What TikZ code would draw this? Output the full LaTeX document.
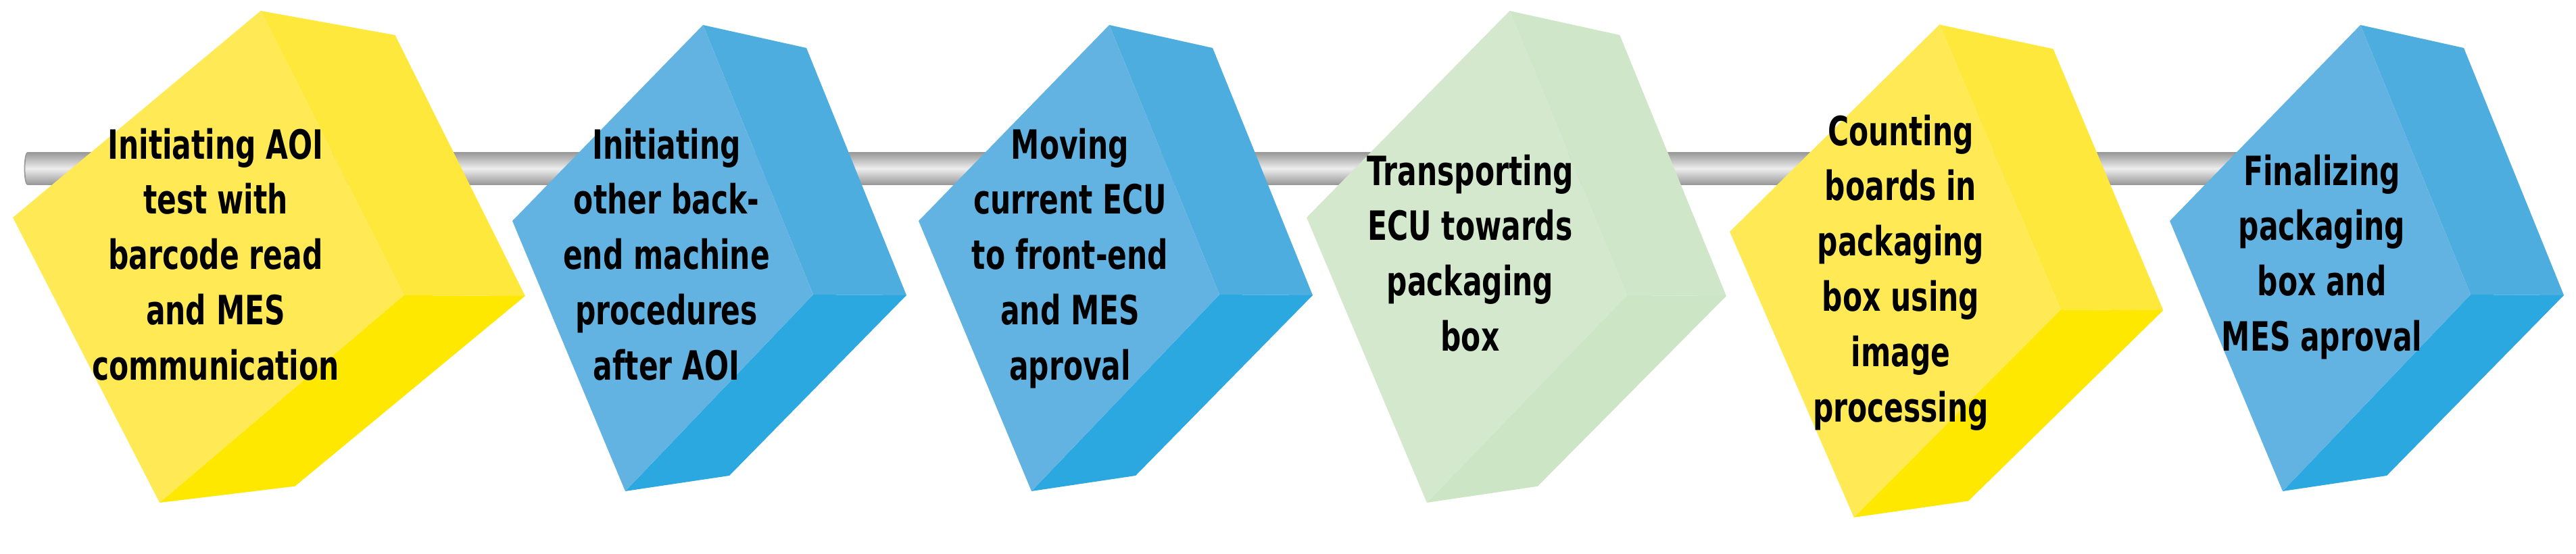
\documentclass[tikz,border=0pt]{standalone}
\usepackage{fontspec}
\usepackage{tikz}
\newfontfamily\stepfont{DejaVu Sans}[FakeStretch=0.71]
\definecolor{yelF}{HTML}{FFEA55}
\definecolor{yelS}{HTML}{FFE83C}
\definecolor{yelB}{HTML}{FFE800}
\definecolor{bluF}{HTML}{62B3E1}
\definecolor{bluS}{HTML}{4DADDF}
\definecolor{bluB}{HTML}{2CA8E0}
\definecolor{grnF}{HTML}{D3E8CD}
\definecolor{grnS}{HTML}{CFE6C9}
\definecolor{grnB}{HTML}{CCE5C5}
\definecolor{rodEdge}{HTML}{9A9A9A}
\definecolor{rodLight}{HTML}{EDEDED}
\tikzset{
  rod/.style={top color=rodEdge, bottom color=rodEdge, middle color=rodLight, draw=rodEdge, line width=0.5pt},
  steplabel/.style={font=\stepfont\bfseries\fontsize{17}{23.3}\selectfont, align=center, anchor=north, inner sep=0pt, text=black}
}

\begin{document}
\begin{tikzpicture}[x=1cm,y=1cm]
\useasboundingbox (0,0) rectangle (38.11,8.19);

% rod behind the cubes
\foreach \a/\b in {0.35/12.3, 12.50/35.5} {
  \shade[rod] ({\a+0.06},5.93) -- (\b,5.93) -- (\b,5.46) -- ({\a+0.06},5.46)
    .. controls (\a,5.46) and (\a,5.93) .. ({\a+0.06},5.93) -- cycle;
}

% cubes: left corner, x/y scale, colour
\foreach \lx/\ly/\sx/\sy/\col in {0.19/4.97/1.30/1.055/yel, 7.58/4.92/1/1/blu,
    13.59/4.92/1/1/blu, 19.33/4.97/1.065/1.055/grn, 25.59/4.76/1.10/1.057/yel,
    32.10/4.92/1/1/blu} {
  \begin{scope}[shift={(\lx,\ly)}, xscale=\sx, yscale=\sy]
    \fill[fill=\col S] (2.82,2.90) -- (4.35,2.56) -- (5.83,-1.10) -- (4.45,-1.09) -- cycle;
    \fill[fill=\col B] (4.45,-1.09) -- (5.83,-1.10) -- (3.21,-3.77) -- (1.67,-4.00) -- cycle;
    \fill[fill=\col F] (0,0) -- (2.82,2.90) -- (4.45,-1.09) -- (1.67,-4.00) -- cycle;
  \end{scope}
}

% step texts
\node[steplabel] (s1) at (3.19,6.30) {Initiating AOI\\test with\\barcode read\\and MES\\communication};
\node[steplabel] (s2) at (9.86,6.30) {Initiating\\other back-\\end machine\\procedures\\after AOI};
\node[steplabel] (s3) at (15.83,6.30) {Moving\\current ECU\\to front-end\\and MES\\aproval};
\node[steplabel] (s4) at (21.75,5.91) {Transporting\\ECU towards\\packaging\\box};
\node[steplabel] (s5) at (28.12,6.50) {Counting\\boards in\\packaging\\box using\\image\\processing};
\node[steplabel] (s6) at (34.35,5.91) {Finalizing\\packaging\\box and\\MES aproval};
\end{tikzpicture}
\end{document}
